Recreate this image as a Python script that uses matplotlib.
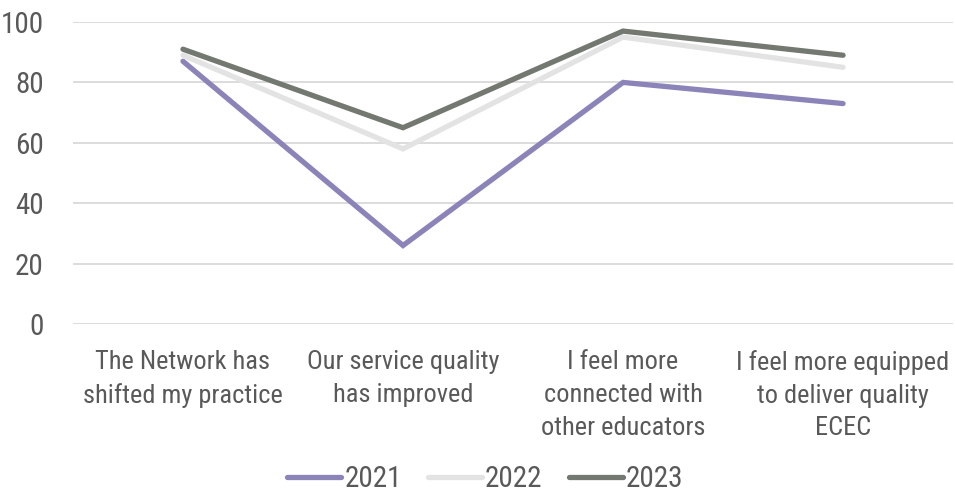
import matplotlib
matplotlib.use("Agg")
import matplotlib.pyplot as plt
from matplotlib import font_manager

# narrow font like the original (Arial Narrow look), fall back if missing
names = {f.name for f in font_manager.fontManager.ttflist}
narrow = [n for n in ['Liberation Sans Narrow', 'Roboto Condensed',
                      'Archivo Narrow', 'DejaVu Sans Condensed'] if n in names]
if narrow:
    plt.rcParams['font.family'] = [narrow[0], 'DejaVu Sans']
    size_cat, size_tick = 19, 21
else:
    plt.rcParams['font.family'] = ['Liberation Sans', 'DejaVu Sans']
    size_cat, size_tick = 17, 19

categories = [
    "The Network has\nshifted my practice",
    "Our service quality\nhas improved",
    "I feel more\nconnected with\nother educators",
    "I feel more equipped\nto deliver quality\nECEC",
]
years = ["2021", "2022", "2023"]
vals_2021 = [87, 26, 80, 73]
vals_2022 = [89, 58, 95, 85]
vals_2023 = [91, 65, 97, 89]
yticks = [0, 20, 40, 60, 80, 100]

colors = ['#8B84B8', '#E3E3E3', '#737870']
text_col = '#595959'

fig = plt.figure(figsize=(9.55, 4.97), dpi=100)
ax = fig.add_axes([0.0764, 0.348, 0.9216, 0.6077])

x = range(len(categories))
for vals, lab, c in zip([vals_2021, vals_2022, vals_2023], years, colors):
    ax.plot(x, vals, color=c, linewidth=3.8, label=lab,
            solid_capstyle='round', solid_joinstyle='miter')

ax.set_xlim(-0.5, len(categories) - 0.5)
ax.set_ylim(0, 100)
ax.set_yticks(yticks)
ax.set_xticks(list(x))
ax.set_xticklabels(categories, fontsize=size_cat, color=text_col, linespacing=1.45)
ax.tick_params(axis='y', labelsize=size_tick, labelcolor=text_col, length=0, pad=21)
ax.tick_params(axis='x', length=0, pad=19)
ax.grid(axis='y', color='#D9D9D9', linewidth=1.3)
ax.set_axisbelow(True)
for s in ax.spines.values():
    s.set_visible(False)

leg = fig.legend(loc='lower center', bbox_to_anchor=(0.508, -0.045), ncol=3,
                 frameon=False, fontsize=size_tick, handlelength=1.85,
                 handletextpad=0.1, columnspacing=0.9)
for t in leg.get_texts():
    t.set_color(text_col)

fig.savefig("out.png", dpi=100)
